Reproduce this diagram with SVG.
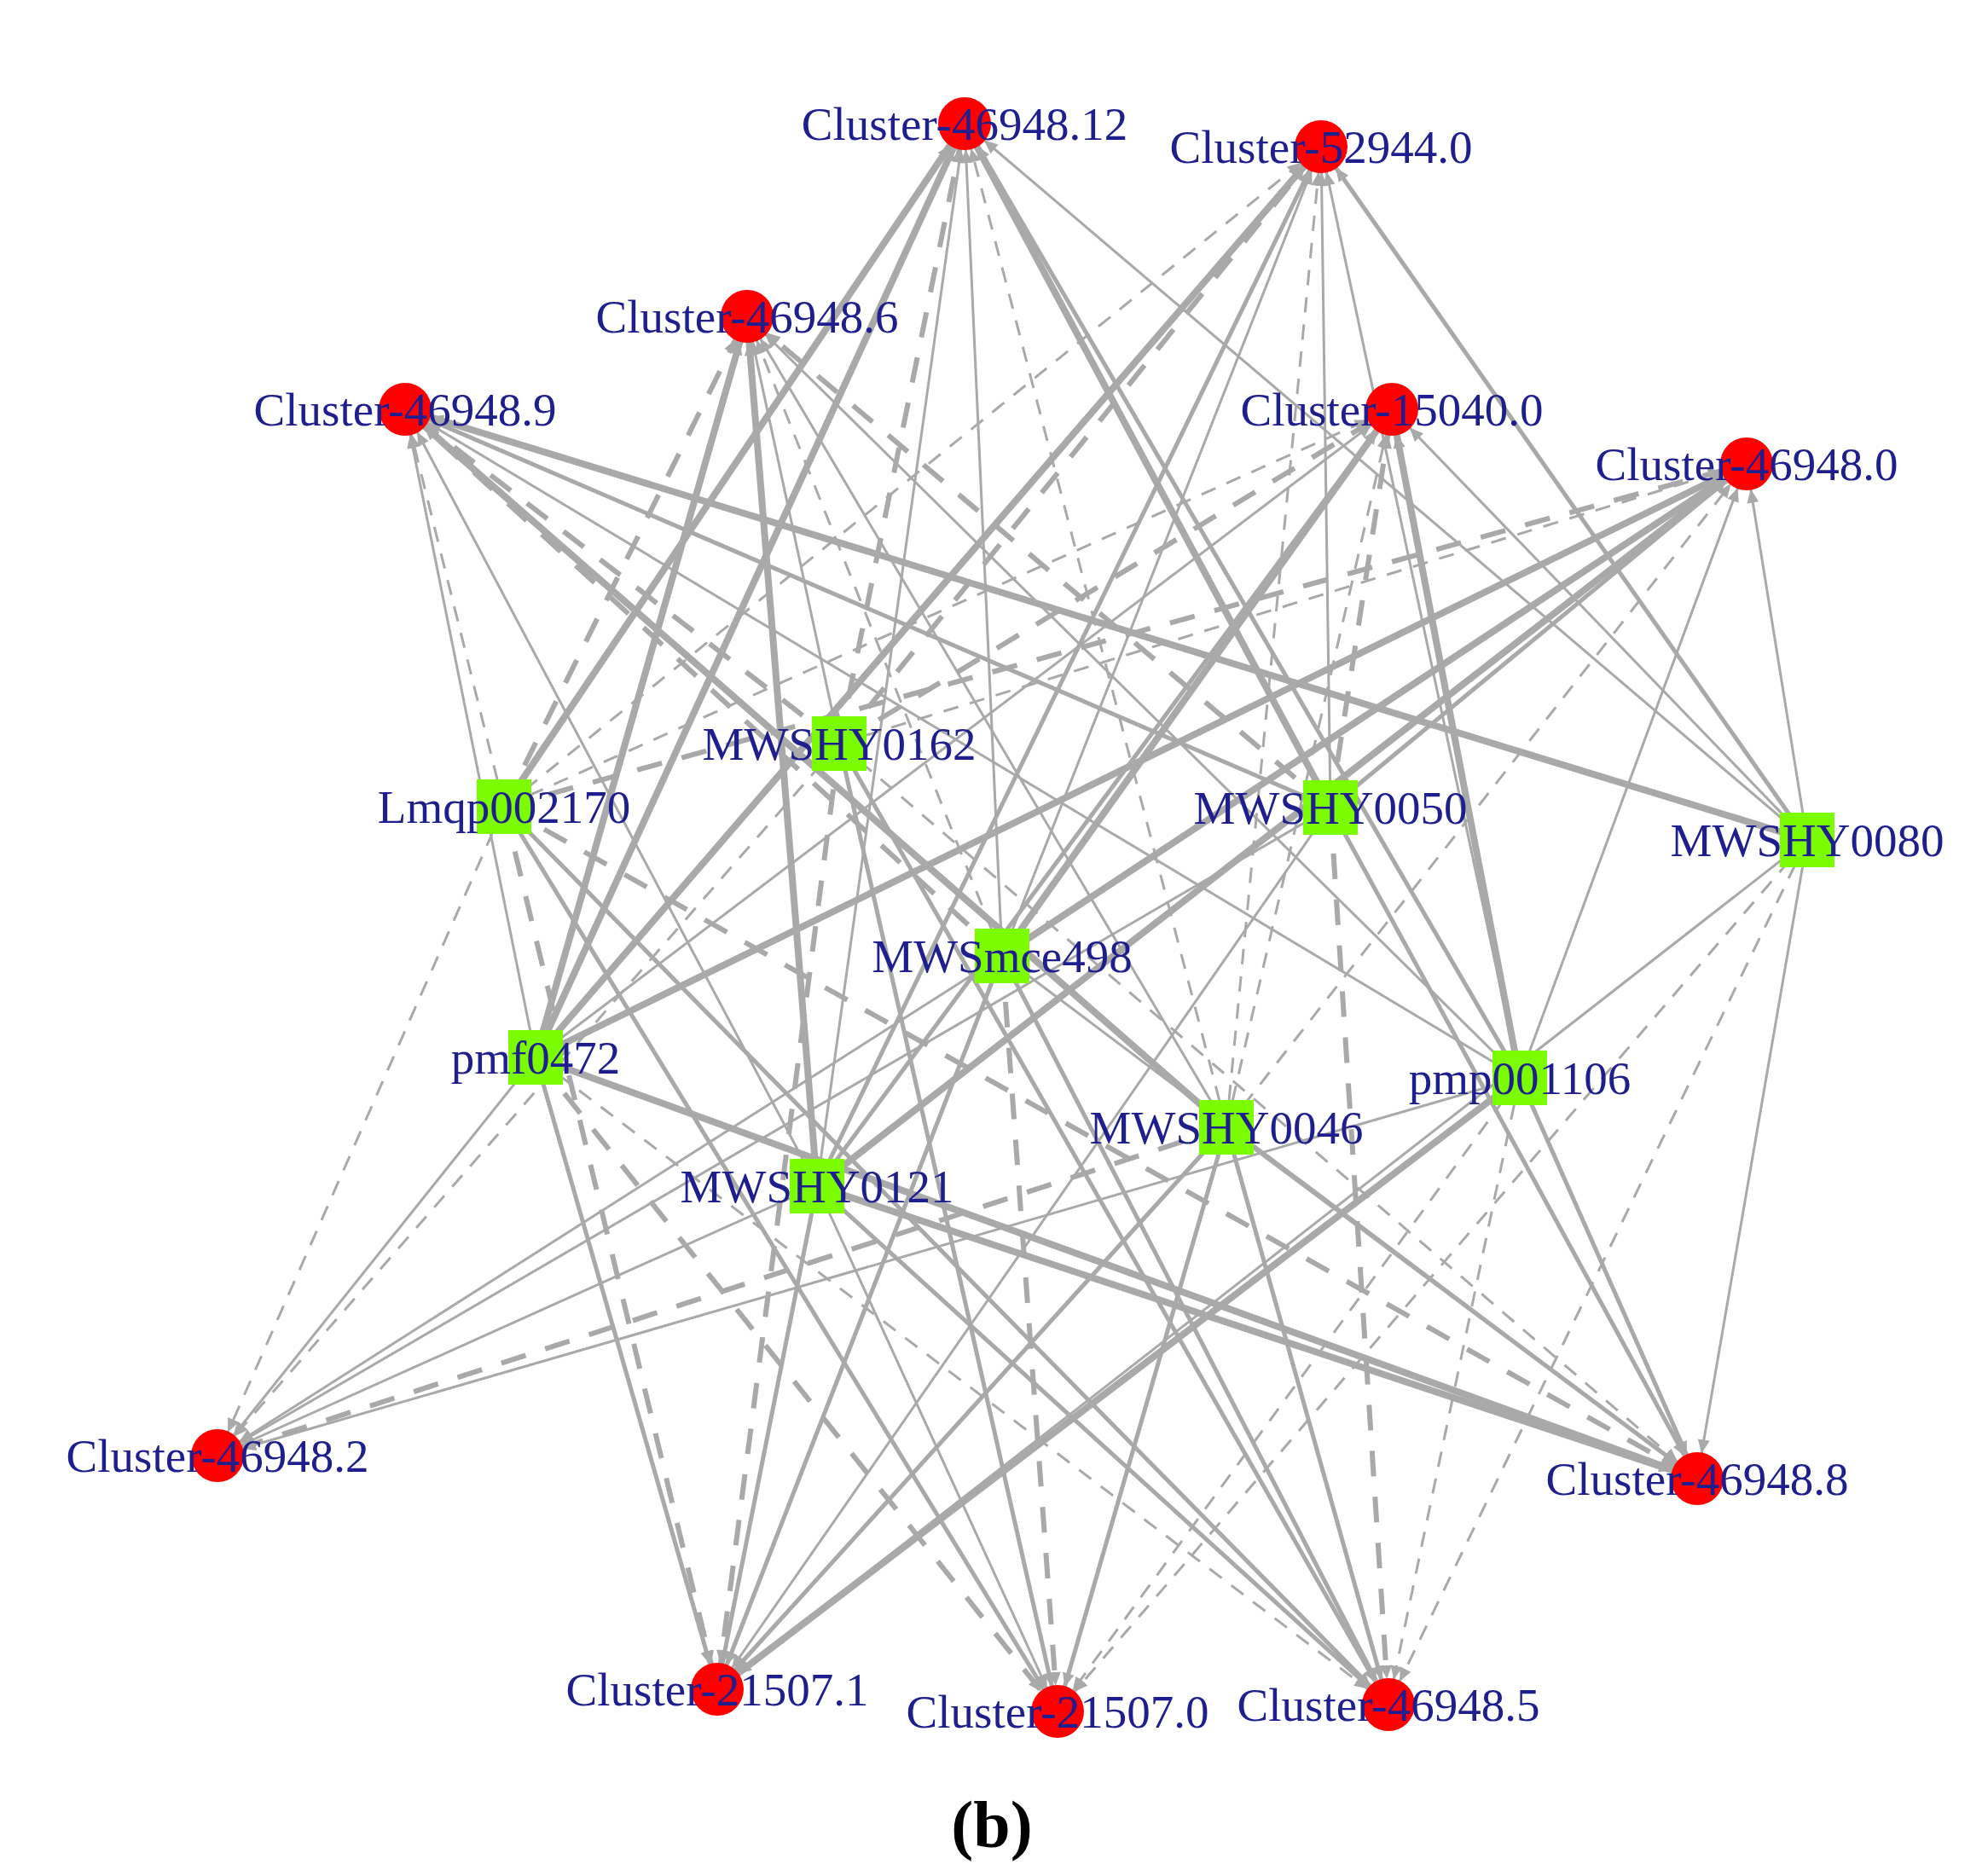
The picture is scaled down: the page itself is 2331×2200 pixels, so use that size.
<svg xmlns="http://www.w3.org/2000/svg" width="2331" height="2200" viewBox="0 0 2331 2200">
<style>
.e line{stroke:#a9a9a9;fill:none;marker-end:url(#ah)}
.s1{stroke-width:3}
.s2{stroke-width:5}
.s3{stroke-width:8}
.d1{stroke-width:3;stroke-dasharray:18 14}
.d2{stroke-width:6;stroke-dasharray:30 24}
.c{fill:#ff0000}
.q{fill:#7cfc00}
text{font-family:"Liberation Serif","DejaVu Serif",serif;font-size:55px;fill:#1e1e8e;text-anchor:middle}
.cap{font-weight:bold;font-size:78px;fill:#000}
</style>
<defs>
<marker id="ah" markerUnits="userSpaceOnUse" markerWidth="16" markerHeight="14" viewBox="0 0 16 14" refX="46" refY="7" orient="auto" overflow="visible">
<path d="M0,0 L16,7 L0,14 z" fill="#a9a9a9"/>
</marker>
</defs>
<rect width="2331" height="2200" fill="#fff"/>
<g id="edges" class="e">
<line class="s3" x1="591" y1="946" x2="1131" y2="145"/>
<line class="s3" x1="628" y1="1240" x2="1131" y2="145"/>
<line class="d2" x1="984" y1="872" x2="1131" y2="145"/>
<line class="s1" x1="958" y1="1391" x2="1131" y2="145"/>
<line class="s1" x1="1175" y1="1121" x2="1131" y2="145"/>
<line class="d1" x1="1438" y1="1322" x2="1131" y2="145"/>
<line class="s3" x1="1560" y1="947" x2="1131" y2="145"/>
<line class="s2" x1="1782" y1="1264" x2="1131" y2="145"/>
<line class="s1" x1="2119" y1="985" x2="1131" y2="145"/>
<line class="s2" x1="2119" y1="985" x2="1549" y2="172"/>
<line class="d1" x1="1438" y1="1322" x2="1549" y2="172"/>
<line class="s1" x1="1560" y1="947" x2="1549" y2="172"/>
<line class="s1" x1="1782" y1="1264" x2="1549" y2="172"/>
<line class="d1" x1="591" y1="946" x2="1549" y2="172"/>
<line class="s3" x1="628" y1="1240" x2="1549" y2="172"/>
<line class="d2" x1="984" y1="872" x2="1549" y2="172"/>
<line class="s1" x1="1175" y1="1121" x2="1549" y2="172"/>
<line class="s2" x1="958" y1="1391" x2="1549" y2="172"/>
<line class="d2" x1="591" y1="946" x2="876" y2="371"/>
<line class="s3" x1="628" y1="1240" x2="876" y2="371"/>
<line class="s3" x1="958" y1="1391" x2="876" y2="371"/>
<line class="s1" x1="984" y1="872" x2="876" y2="371"/>
<line class="d1" x1="1175" y1="1121" x2="876" y2="371"/>
<line class="s1" x1="1438" y1="1322" x2="876" y2="371"/>
<line class="s1" x1="1782" y1="1264" x2="876" y2="371"/>
<line class="d2" x1="1560" y1="947" x2="876" y2="371"/>
<line class="d1" x1="591" y1="946" x2="475" y2="480"/>
<line class="s1" x1="628" y1="1240" x2="475" y2="480"/>
<line class="s1" x1="958" y1="1391" x2="475" y2="480"/>
<line class="s3" x1="1438" y1="1322" x2="475" y2="480"/>
<line class="d2" x1="1175" y1="1121" x2="475" y2="480"/>
<line class="s2" x1="1560" y1="947" x2="475" y2="480"/>
<line class="s3" x1="2119" y1="985" x2="475" y2="480"/>
<line class="s1" x1="1782" y1="1264" x2="475" y2="480"/>
<line class="d2" x1="984" y1="872" x2="475" y2="480"/>
<line class="s1" x1="2119" y1="985" x2="1632" y2="480"/>
<line class="d2" x1="1560" y1="947" x2="1632" y2="480"/>
<line class="s3" x1="1782" y1="1264" x2="1632" y2="480"/>
<line class="s3" x1="1175" y1="1121" x2="1632" y2="480"/>
<line class="s2" x1="958" y1="1391" x2="1632" y2="480"/>
<line class="d1" x1="1438" y1="1322" x2="1632" y2="480"/>
<line class="d2" x1="984" y1="872" x2="1632" y2="480"/>
<line class="s1" x1="628" y1="1240" x2="1632" y2="480"/>
<line class="d1" x1="591" y1="946" x2="1632" y2="480"/>
<line class="s1" x1="2119" y1="985" x2="2048" y2="544"/>
<line class="s2" x1="1560" y1="947" x2="2048" y2="544"/>
<line class="s1" x1="1782" y1="1264" x2="2048" y2="544"/>
<line class="s3" x1="1175" y1="1121" x2="2048" y2="544"/>
<line class="s3" x1="958" y1="1391" x2="2048" y2="544"/>
<line class="s3" x1="628" y1="1240" x2="2048" y2="544"/>
<line class="d1" x1="1438" y1="1322" x2="2048" y2="544"/>
<line class="d2" x1="591" y1="946" x2="2048" y2="544"/>
<line class="d1" x1="984" y1="872" x2="2048" y2="544"/>
<line class="d1" x1="591" y1="946" x2="255" y2="1707"/>
<line class="s1" x1="628" y1="1240" x2="255" y2="1707"/>
<line class="d1" x1="984" y1="872" x2="255" y2="1707"/>
<line class="s1" x1="1175" y1="1121" x2="255" y2="1707"/>
<line class="s1" x1="1560" y1="947" x2="255" y2="1707"/>
<line class="s1" x1="958" y1="1391" x2="255" y2="1707"/>
<line class="d2" x1="1438" y1="1322" x2="255" y2="1707"/>
<line class="s1" x1="1782" y1="1264" x2="255" y2="1707"/>
<line class="s1" x1="2119" y1="985" x2="1990" y2="1734"/>
<line class="s3" x1="958" y1="1391" x2="1990" y2="1734"/>
<line class="s3" x1="628" y1="1240" x2="1990" y2="1734"/>
<line class="s2" x1="1438" y1="1322" x2="1990" y2="1734"/>
<line class="s1" x1="1175" y1="1121" x2="1990" y2="1734"/>
<line class="s2" x1="1782" y1="1264" x2="1990" y2="1734"/>
<line class="s2" x1="1560" y1="947" x2="1990" y2="1734"/>
<line class="d2" x1="591" y1="946" x2="1990" y2="1734"/>
<line class="d1" x1="984" y1="872" x2="1990" y2="1734"/>
<line class="s2" x1="628" y1="1240" x2="841" y2="1981"/>
<line class="d2" x1="591" y1="946" x2="841" y2="1981"/>
<line class="d2" x1="984" y1="872" x2="841" y2="1981"/>
<line class="s2" x1="958" y1="1391" x2="841" y2="1981"/>
<line class="s2" x1="1175" y1="1121" x2="841" y2="1981"/>
<line class="s1" x1="1560" y1="947" x2="841" y2="1981"/>
<line class="s2" x1="1438" y1="1322" x2="841" y2="1981"/>
<line class="s3" x1="1782" y1="1264" x2="841" y2="1981"/>
<line class="s1" x1="2119" y1="985" x2="841" y2="1981"/>
<line class="d2" x1="628" y1="1240" x2="1240" y2="2007"/>
<line class="d2" x1="1175" y1="1121" x2="1240" y2="2007"/>
<line class="s2" x1="984" y1="872" x2="1240" y2="2007"/>
<line class="s2" x1="1438" y1="1322" x2="1240" y2="2007"/>
<line class="d1" x1="1782" y1="1264" x2="1240" y2="2007"/>
<line class="s2" x1="591" y1="946" x2="1240" y2="2007"/>
<line class="s1" x1="958" y1="1391" x2="1240" y2="2007"/>
<line class="d1" x1="2119" y1="985" x2="1240" y2="2007"/>
<line class="d1" x1="2119" y1="985" x2="1628" y2="1999"/>
<line class="d1" x1="1782" y1="1264" x2="1628" y2="1999"/>
<line class="d2" x1="1560" y1="947" x2="1628" y2="1999"/>
<line class="s2" x1="1438" y1="1322" x2="1628" y2="1999"/>
<line class="s2" x1="1175" y1="1121" x2="1628" y2="1999"/>
<line class="s2" x1="984" y1="872" x2="1628" y2="1999"/>
<line class="s2" x1="958" y1="1391" x2="1628" y2="1999"/>
<line class="s2" x1="591" y1="946" x2="1628" y2="1999"/>
<line class="d1" x1="628" y1="1240" x2="1628" y2="1999"/>
</g>
<g id="n-Lmqp002170"><rect class="q" x="559" y="914" width="64" height="64"/><text x="591" y="965">Lmqp002170</text></g>
<g id="n-MWSHY0162"><rect class="q" x="952" y="840" width="64" height="64"/><text x="984" y="891">MWSHY0162</text></g>
<g id="n-MWSHY0050"><rect class="q" x="1528" y="915" width="64" height="64"/><text x="1560" y="966">MWSHY0050</text></g>
<g id="n-MWSHY0080"><rect class="q" x="2087" y="953" width="64" height="64"/><text x="2119" y="1004">MWSHY0080</text></g>
<g id="n-MWSmce498"><rect class="q" x="1143" y="1089" width="64" height="64"/><text x="1175" y="1140">MWSmce498</text></g>
<g id="n-pmf0472"><rect class="q" x="596" y="1208" width="64" height="64"/><text x="628" y="1259">pmf0472</text></g>
<g id="n-pmp001106"><rect class="q" x="1750" y="1232" width="64" height="64"/><text x="1782" y="1283">pmp001106</text></g>
<g id="n-MWSHY0046"><rect class="q" x="1406" y="1290" width="64" height="64"/><text x="1438" y="1341">MWSHY0046</text></g>
<g id="n-MWSHY0121"><rect class="q" x="926" y="1359" width="64" height="64"/><text x="958" y="1410">MWSHY0121</text></g>
<g id="n-Cluster-46948.12"><circle class="c" cx="1131" cy="145" r="31"/><text x="1131" y="164">Cluster-46948.12</text></g>
<g id="n-Cluster-52944.0"><circle class="c" cx="1549" cy="172" r="31"/><text x="1549" y="191">Cluster-52944.0</text></g>
<g id="n-Cluster-46948.6"><circle class="c" cx="876" cy="371" r="31"/><text x="876" y="390">Cluster-46948.6</text></g>
<g id="n-Cluster-46948.9"><circle class="c" cx="475" cy="480" r="31"/><text x="475" y="499">Cluster-46948.9</text></g>
<g id="n-Cluster-15040.0"><circle class="c" cx="1632" cy="480" r="31"/><text x="1632" y="499">Cluster-15040.0</text></g>
<g id="n-Cluster-46948.0"><circle class="c" cx="2048" cy="544" r="31"/><text x="2048" y="563">Cluster-46948.0</text></g>
<g id="n-Cluster-46948.2"><circle class="c" cx="255" cy="1707" r="31"/><text x="255" y="1726">Cluster-46948.2</text></g>
<g id="n-Cluster-46948.8"><circle class="c" cx="1990" cy="1734" r="31"/><text x="1990" y="1753">Cluster-46948.8</text></g>
<g id="n-Cluster-21507.1"><circle class="c" cx="841" cy="1981" r="31"/><text x="841" y="2000">Cluster-21507.1</text></g>
<g id="n-Cluster-21507.0"><circle class="c" cx="1240" cy="2007" r="31"/><text x="1240" y="2026">Cluster-21507.0</text></g>
<g id="n-Cluster-46948.5"><circle class="c" cx="1628" cy="1999" r="31"/><text x="1628" y="2018">Cluster-46948.5</text></g>
<text class="cap" x="1163" y="2166">(b)</text>
</svg>
